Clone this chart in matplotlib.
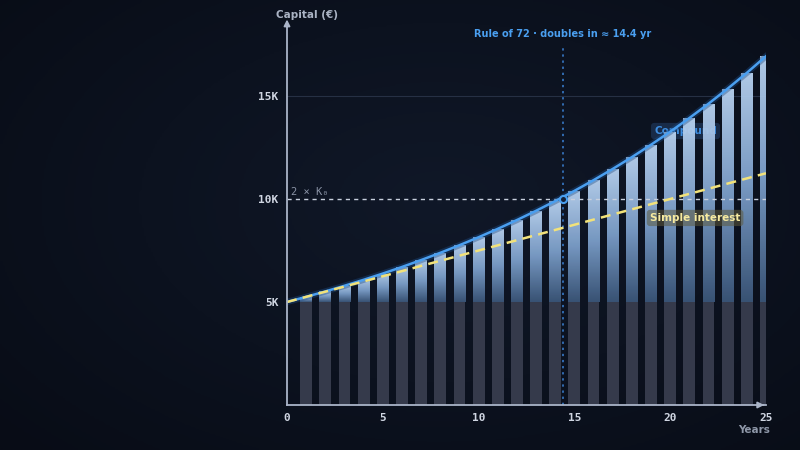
import numpy as np
import matplotlib
matplotlib.use("Agg")
import matplotlib.pyplot as plt
import matplotlib.patheffects as pe
from matplotlib.colors import LinearSegmentedColormap
from matplotlib.patches import Rectangle

# data: 5000 € at 5 % p.a.
years = [0, 1, 2, 3, 4, 5, 6, 7, 8, 9, 10, 11, 12, 13, 14, 15, 16, 17, 18, 19, 20, 21, 22, 23, 24, 25]
compound = [5000, 5250, 5513, 5788, 6078, 6381, 6700, 7036, 7387, 7757, 8144, 8552, 8979,
            9428, 9900, 10395, 10914, 11460, 12033, 12635, 13266, 13930, 14626, 15358, 16125, 16932]
simple = [5000, 5250, 5500, 5750, 6000, 6250, 6500, 6750, 7000, 7250, 7500, 7750, 8000,
          8250, 8500, 8750, 9000, 9250, 9500, 9750, 10000, 10250, 10500, 10750, 11000, 11250]
principal = 5000
double_target = 10000
rule72_year = 14.4
yticks = [5000, 10000, 15000]
ytick_labels = ["5K", "10K", "15K"]
xticks = [0, 5, 10, 15, 20, 25]

BG = "#0a0e1a"
AXIS = "#aab4c8"
BLUE = "#4a9ff0"
YELLOW = "#f2e27a"
MONO = "DejaVu Sans Mono"

fig = plt.figure(figsize=(8, 4.5), dpi=100)
fig.patch.set_facecolor(BG)

# subtle radial background glow
bg = fig.add_axes([0, 0, 1, 1], zorder=-10)
yy, xx = np.mgrid[0:1:200j, 0:1:356j]
r = np.sqrt(((xx - 0.55) / 0.75) ** 2 + ((yy - 0.55) / 0.8) ** 2)
glow = np.clip(1 - r, 0, 1)
bg_cmap = LinearSegmentedColormap.from_list("bg", ["#080c16", "#101828"])
bg.imshow(glow, cmap=bg_cmap, aspect="auto", extent=[0, 1, 0, 1], origin="lower")
bg.axis("off")

ax = fig.add_axes([0.35875, 0.1, 0.59875, 0.824])
ax.set_facecolor("none")

# bars: grey base + gradient growth part
bw = 0.62
bar_cmap = LinearSegmentedColormap.from_list("bar", ["#3b5679", "#7c9fca", "#b9d3f1"])
grad = np.linspace(0, 1, 128).reshape(-1, 1)
for x, v in zip(years[1:], compound[1:]):
    ax.bar(x, principal, width=bw, color="#353a4b", zorder=2)
    left = x - bw / 2
    right = min(x + bw / 2, 25)
    im = ax.imshow(grad, cmap=bar_cmap, aspect="auto", origin="lower",
                   extent=[left, x + bw / 2, principal, v], zorder=3, alpha=0.95)
    rect = Rectangle((left, principal), right - left, v - principal, transform=ax.transData)
    im.set_clip_path(rect)
ax.set_xlim(0, 25)
ax.set_ylim(0, 18000)

# grid at 15K
ax.axhline(15000, color="#263044", lw=0.8, zorder=1)

# label behind bars
ax.text(20.8, 13300, "Compound", color="#3d8de0", fontsize=7.5, fontweight="bold",
        ha="center", va="center", zorder=2.5,
        bbox=dict(boxstyle="round,pad=0.3", fc="#22406a", ec="none", alpha=0.55))

# doubling reference line
ax.axhline(double_target, color="#c8d0de", lw=1, ls=(0, (3, 3)), zorder=4)
ax.text(0.2, double_target + 120, "2 × K₀", color="#8a93a6", fontsize=7.5,
        family=MONO, va="bottom", ha="left")

# rule of 72 vertical
ax.plot([rule72_year, rule72_year], [0, 17500], color="#3b82d6", lw=1.1,
        ls=(0, (1.5, 2.5)), zorder=4)
ax.text(rule72_year, 17750, "Rule of 72 · doubles in ≈ 14.4 yr", color="#4a9ff0",
        fontsize=7, fontweight="bold", ha="center", va="bottom")

# compound curve with glow
ax.plot(years, compound, color=BLUE, lw=1.8, zorder=6,
        path_effects=[pe.Stroke(linewidth=4.5, foreground="#1d4c86", alpha=0.4), pe.Normal()])
ax.plot(years, simple, color=YELLOW, lw=1.8, ls=(0, (4, 2.5)), zorder=6)
ax.scatter([rule72_year], [double_target], s=26, facecolor="#13213a", edgecolor=BLUE,
           lw=1.5, zorder=7)

ax.text(21.3, 9080, "Simple interest", color="#f6eaa0", fontsize=7.5, fontweight="bold",
        ha="center", va="center", zorder=8,
        bbox=dict(boxstyle="round,pad=0.3", fc="#5e5a3e", ec="none", alpha=0.55))

# axes styling
for s in ["top", "right"]:
    ax.spines[s].set_visible(False)
for s in ["left", "bottom"]:
    ax.spines[s].set_color(AXIS)
    ax.spines[s].set_linewidth(1.3)
    ax.spines[s].set_zorder(9)
ax.spines["left"].set_bounds(0, 18400)
ax.spines["bottom"].set_bounds(0, 25.0)

ax.set_xticks(xticks)
ax.set_xticklabels([str(t) for t in xticks])
ax.set_yticks(yticks)
ax.set_yticklabels(ytick_labels)
ax.tick_params(length=0, colors="#d0d6e2", labelsize=8, pad=6)
for lab in ax.get_xticklabels() + ax.get_yticklabels():
    lab.set_family(MONO)
    lab.set_fontweight("bold")

# arrow heads
ax.annotate("", xy=(0, 18850), xytext=(0, 18200),
            arrowprops=dict(arrowstyle="-|>", color=AXIS, lw=1.3, mutation_scale=9),
            annotation_clip=False)
ax.annotate("", xy=(25.05, 0), xytext=(24.7, 0),
            arrowprops=dict(arrowstyle="-|>", color=AXIS, lw=1.3, mutation_scale=9),
            annotation_clip=False)

fig.text(307 / 800, 1 - 15 / 450, "Capital (€)", color="#aab3c4", fontsize=7.5,
         fontweight="bold", ha="center", va="center")
fig.text(754 / 800, 1 - 430 / 450, "Years", color="#8e97a8", fontsize=7.5,
         fontweight="bold", ha="center", va="center")

fig.savefig("out.png", dpi=100, facecolor=BG)
